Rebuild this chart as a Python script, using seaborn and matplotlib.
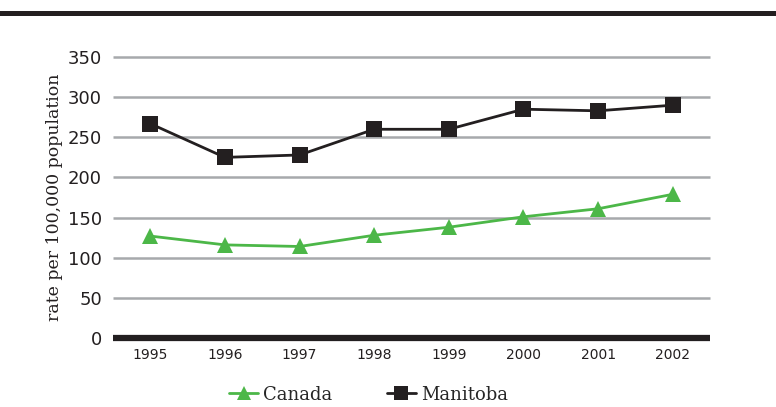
import matplotlib
matplotlib.use("Agg")
import matplotlib.pyplot as plt
import seaborn as sns
import pandas as pd
from matplotlib.lines import Line2D

years = ["1995", "1996", "1997", "1998", "1999", "2000", "2001", "2002"]
canada = [127, 116, 114, 128, 138, 151, 161, 179]
manitoba = [267, 225, 228, 260, 260, 285, 283, 290]
y_ticks = [0, 50, 100, 150, 200, 250, 300, 350]

df = pd.DataFrame({
    "year": years * 2,
    "pos": list(range(len(years))) * 2,
    "rate": canada + manitoba,
    "region": ["Canada"] * len(years) + ["Manitoba"] * len(years),
})

sns.set_theme(style="white")
fig = plt.figure(figsize=(7.76, 4.07), dpi=100)
ax = fig.add_axes([0.1456, 0.1695, 0.7694, 0.6904])

colors = {"Canada": "#4cb748", "Manitoba": "#231f20"}
markers = {"Canada": "^", "Manitoba": "s"}

for y in y_ticks[1:]:
    ax.axhline(y, color="#a7a9ac", lw=1.8, zorder=0, clip_on=False, solid_capstyle="butt")
ax.axhline(0, color="#231f20", lw=4.5, zorder=1, clip_on=False, solid_capstyle="butt")

sns.lineplot(data=df, x="pos", y="rate", hue="region", style="region",
             markers=markers, dashes=False, palette=colors, markersize=11,
             markeredgewidth=0, linewidth=2, legend=False, ax=ax, zorder=3)

ax.set_xlim(-0.5, len(years) - 0.5)
ax.set_ylim(0, 350)
ax.set_xticks(range(len(years)))
ax.set_xticklabels(years, fontsize=10, color="#231f20")
ax.set_yticks(y_ticks)
ax.set_yticklabels([str(v) for v in y_ticks], fontsize=13, color="#231f20")
ax.tick_params(axis="x", length=0, pad=7)
ax.tick_params(axis="y", length=0, pad=8)
ax.set_xlabel("")
ax.set_ylabel("rate per 100,000 population", family="DejaVu Serif", fontsize=12.5,
              color="#231f20", labelpad=3)
for s in ax.spines.values():
    s.set_visible(False)

# heavy rule across the top of the figure
fig.add_artist(plt.Rectangle((0, 1 - 16 / 407), 1, 5.5 / 407, transform=fig.transFigure,
                             color="#231f20", lw=0))

handles = [Line2D([0], [0], color=colors[r], marker=markers[r], markersize=10,
                  markeredgewidth=0, lw=2) for r in ["Canada", "Manitoba"]]
fig.legend(handles, ["Canada", "Manitoba"], loc="center", bbox_to_anchor=(0.475, 0.03),
           ncol=2, frameon=False, handlelength=1.6, handletextpad=0.3, columnspacing=3,
           prop={"family": "DejaVu Serif", "size": 13})

fig.savefig("out.png", dpi=100)
